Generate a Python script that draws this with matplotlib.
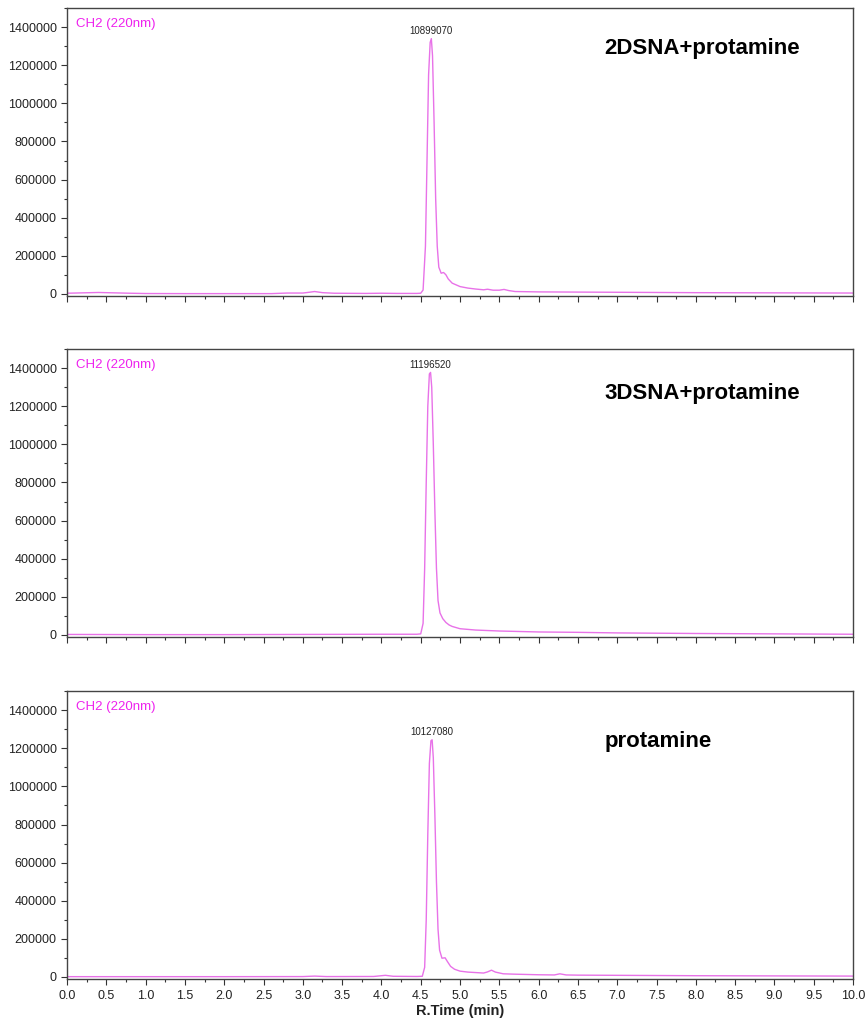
import numpy as np
import matplotlib.pyplot as plt

plt.rcParams['font.family'] = ['Liberation Sans', 'DejaVu Sans']

# retention time (min) / signal
t_2d = [0.0, 0.2, 0.4, 0.6, 0.8, 1.0, 1.5, 2.0, 2.6, 2.8, 3.0, 3.08, 3.15, 3.25, 3.4, 3.8, 4.0, 4.2, 4.45,
        4.5, 4.53, 4.56, 4.58, 4.60, 4.62, 4.635, 4.65, 4.67, 4.69, 4.71, 4.73, 4.76, 4.79, 4.82, 4.85, 4.9,
        5.0, 5.1, 5.2, 5.3, 5.35, 5.42, 5.5, 5.56, 5.62, 5.7, 6.0, 6.5, 7.0, 8.0, 9.0, 10.0]
y_2d = [3000, 5000, 7000, 5000, 3000, 1500, 1000, 1000, 1000, 4000, 4000, 8000, 12000, 6000, 3000, 2000, 3000, 2000, 2000,
        3000, 20000, 250000, 700000, 1150000, 1320000, 1340000, 1250000, 900000, 500000, 250000, 140000, 108000, 112000, 100000, 78000, 56000,
        38000, 30000, 25000, 21000, 24000, 19000, 19000, 23000, 17000, 12000, 10000, 9000, 8000, 6000, 5000, 4000]

t_3d = [0.0, 0.5, 1.0, 2.0, 3.0, 4.0, 4.45, 4.5, 4.53, 4.55, 4.57, 4.59, 4.61, 4.625, 4.64, 4.66, 4.68, 4.70,
        4.72, 4.745, 4.78, 4.82, 4.86, 4.9, 5.0, 5.2, 5.5, 6.0, 6.5, 7.0, 8.0, 9.0, 10.0]
y_3d = [2000, 1500, 1000, 1000, 2000, 3000, 3000, 5000, 60000, 350000, 800000, 1200000, 1370000, 1378000, 1300000, 1000000, 650000, 350000,
        180000, 115000, 85000, 65000, 52000, 44000, 32000, 25000, 20000, 15000, 13000, 10000, 7000, 5000, 3000]

t_pr = [0.0, 0.5, 1.0, 2.0, 3.0, 3.15, 3.3, 3.9, 4.05, 4.15, 4.45, 4.52, 4.55, 4.57, 4.59, 4.61, 4.63, 4.645,
        4.66, 4.68, 4.70, 4.72, 4.74, 4.77, 4.81, 4.84, 4.88, 4.93, 5.0, 5.1, 5.3, 5.35, 5.4, 5.45, 5.55,
        5.7, 6.0, 6.2, 6.27, 6.35, 6.5, 7.0, 8.0, 9.0, 10.0]
y_pr = [1000, 1000, 1000, 1000, 1500, 4000, 1500, 2000, 8000, 3000, 2000, 3000, 50000, 300000, 750000, 1120000, 1240000, 1245000,
        1150000, 850000, 500000, 250000, 140000, 98000, 100000, 80000, 55000, 40000, 30000, 25000, 20000, 26000, 35000, 25000, 16000,
        14000, 11000, 10000, 16000, 10000, 9000, 8000, 6000, 5000, 4000]

peak_t = [4.635, 4.625, 4.645]
peak_y = [1340000, 1378000, 1245000]
peak_area = ['10899070', '11196520', '10127080']
samples = ['2DSNA+protamine', '3DSNA+protamine', 'protamine']
series = [(t_2d, y_2d), (t_3d, y_3d), (t_pr, y_pr)]

fig = plt.figure(figsize=(8.67, 10.21), dpi=100)
bottoms = [0.710, 0.376, 0.041]
label_y = [0.861, 0.847, 0.827]

for i in range(3):
    ax = fig.add_axes([0.0773, bottoms[i], 0.9066, 0.282])
    t, y = series[i]
    ax.plot(t, y, color='#e872e8', lw=1.0)
    ax.set_xlim(0, 10)
    ax.set_ylim(-12000, 1500000)
    ax.set_xticks(np.arange(0, 10.01, 0.5))
    ax.set_xticks(np.arange(0, 10.01, 0.25), minor=True)
    ax.set_yticks(np.arange(0, 1400001, 200000))
    ax.set_yticks(np.arange(0, 1500001, 100000), minor=True)
    ax.yaxis.set_major_formatter(plt.FuncFormatter(lambda v, p: '%d' % v))
    ax.tick_params(direction='out', length=4, width=0.8, colors='#333333', labelsize=9, labelcolor='#222222')
    ax.tick_params(which='minor', direction='out', length=2.5, width=0.8, colors='#333333')
    for s in ax.spines.values():
        s.set_color('#444444')
        s.set_linewidth(1.0)
    if i < 2:
        ax.set_xticklabels([])
    else:
        ax.set_xticklabels(['%.1f' % v for v in np.arange(0, 10.01, 0.5)])
        ax.set_xlabel('R.Time (min)', fontsize=10.5, fontweight='bold', color='#222222', labelpad=2)
    ax.text(0.011, 0.965, 'CH2 (220nm)', transform=ax.transAxes, color='#ee22ee', fontsize=9.5, va='top')
    ax.text(peak_t[i], peak_y[i] + 15000, peak_area[i], ha='center', va='bottom', fontsize=7, color='#222222')
    ax.text(0.684, label_y[i], samples[i], transform=ax.transAxes, fontsize=16, fontweight='bold', va='center')

plt.savefig('out.png', dpi=100)
